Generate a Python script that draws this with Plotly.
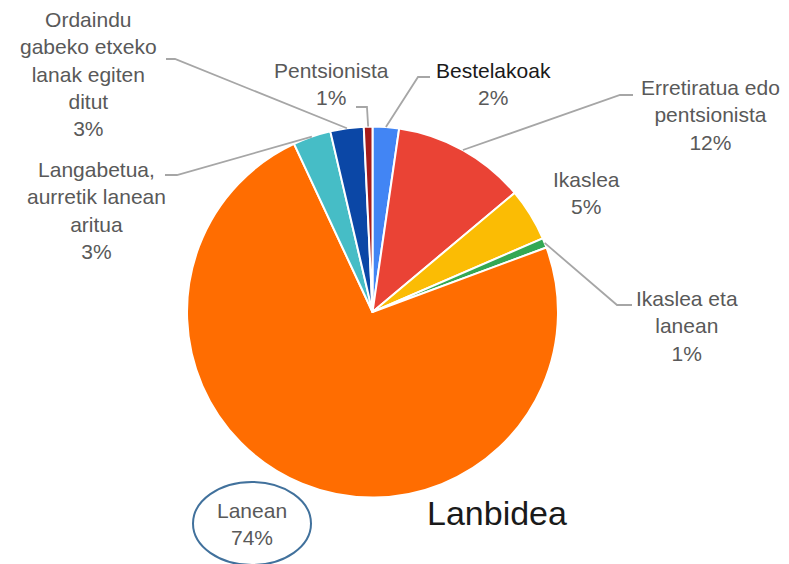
import numpy as np
import plotly.graph_objects as go

# datuak (balioak irudiaren angeluetatik irakurrita)
labels = ["Bestelakoak", "Erretiratua edo pentsionista", "Ikaslea", "Ikaslea eta lanean",
          "Lanean", "Langabetua, aurretik lanean aritua",
          "Ordaindu gabeko etxeko lanak egiten ditut", "Pentsionista"]
values = [2.3, 11.6, 4.6, 0.85, 73.7, 3.3, 2.9, 0.75]
colors = ["#4285F4", "#EA4335", "#FBBC04", "#34A853", "#FF6D01", "#46BDC6", "#0B47A6", "#A51B1B"]
label_text = ["<span style='color:#1a1a1a'>Bestelakoak</span>", "Erretiratua edo<br>pentsionista",
              "Ikaslea", "Ikaslea eta<br>lanean", "Lanean", "Langabetua,<br>aurretik lanean<br>aritua",
              "Ordaindu<br>gabeko etxeko<br>lanak egiten<br>ditut", "Pentsionista"]

W, H = 789, 564
cx, cy, r = 372.5, 312, 185.5


def px(x, y):
    return x / W, 1 - y / H


fig = go.Figure(go.Pie(
    labels=labels, values=values, sort=False, direction="clockwise", rotation=0,
    marker=dict(colors=colors, line=dict(color="white", width=2)),
    textinfo="none", hoverinfo="label+percent", showlegend=False,
    domain=dict(x=[(cx - r) / W, (cx + r) / W], y=[1 - (cy + r) / H, 1 - (cy - r) / H]),
))

# etiketen kokapenak (pixeletan) eta gida-lerroen ukondoak
label_pos = [(493, 84), (710, 115), (586, 193), (687, 326), (252, 524), (96, 210), (88, 74), (331, 84)]
elbows = [[(418, 77), (430, 77)], [(620, 95), (633, 95)], None, [(617, 305), (632, 305)], None,
          [(177, 175), (165, 175)], [(175, 59), (166, 59)], [(367, 107), (356, 107)]]

frac = np.array(values) / sum(values)
mid = (np.cumsum(frac) - frac / 2) * 2 * np.pi

for i, lab in enumerate(label_text):
    pct = f"{frac[i] * 100:.0f}%"
    x, y = px(*label_pos[i])
    fig.add_annotation(x=x, y=y, xref="paper", yref="paper", text=lab + "<br>" + pct,
                       showarrow=False, align="center", xanchor="center", yanchor="middle",
                       font=dict(family="Liberation Sans, Arial", size=21, color="#595959"))
    if elbows[i] is not None:
        sx = cx + r * np.sin(mid[i])
        sy = cy - r * np.cos(mid[i])
        pts = [(sx, sy)] + elbows[i]
        path = "M " + " L ".join(f"{px(a, b)[0]:.4f},{px(a, b)[1]:.4f}" for a, b in pts)
        fig.add_shape(type="path", path=path, xref="paper", yref="paper",
                      line=dict(color="#A6A6A6", width=1.8))

# elipsea Lanean etiketaren inguruan
x0, y0 = px(193, 482)
x1, y1 = px(311, 565)
fig.add_shape(type="circle", xref="paper", yref="paper", x0=x0, y0=y0, x1=x1, y1=y1,
              line=dict(color="#41719C", width=2))

fig.add_annotation(x=px(497, 513)[0], y=px(497, 513)[1], xref="paper", yref="paper",
                   text="Lanbidea", showarrow=False, xanchor="center", yanchor="middle",
                   font=dict(family="Liberation Sans, Arial", size=34, color="#1a1a1a"))

fig.update_layout(width=W, height=H, margin=dict(l=0, r=0, t=0, b=0),
                  paper_bgcolor="white", plot_bgcolor="white")

fig.write_html("out.html", config={"displayModeBar": False},
               post_script="document.body.style.margin='0';")
